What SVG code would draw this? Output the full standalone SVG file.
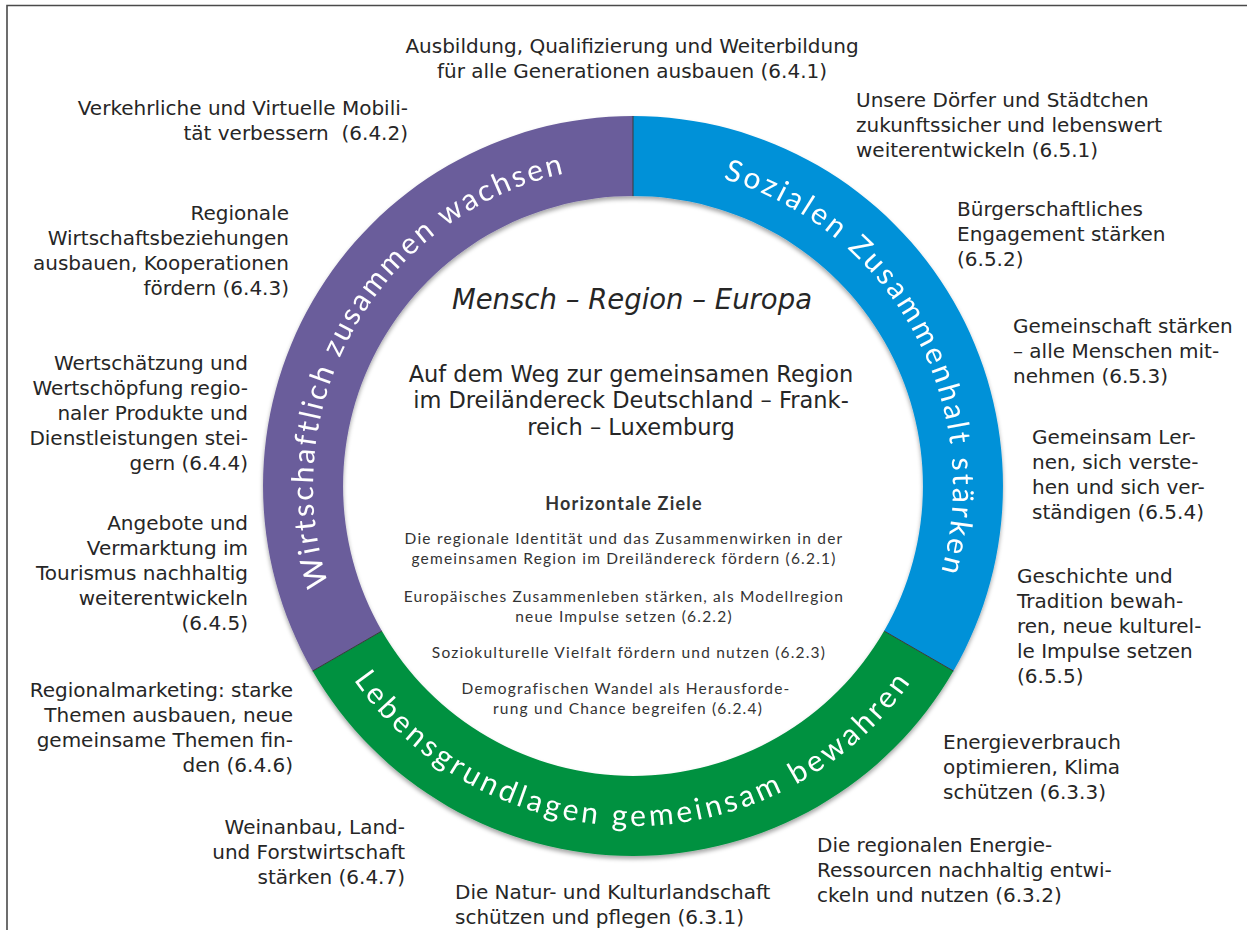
<svg xmlns="http://www.w3.org/2000/svg" xmlns:xlink="http://www.w3.org/1999/xlink" width="1247" height="930" viewBox="0 0 1247 930">
  <style>
    .lbl { font-family: "DejaVu Sans", Verdana, sans-serif; font-size: 20px; fill: #262626; }
    .l { text-anchor: end; }
    .r { text-anchor: start; }
    .c { text-anchor: middle; }
    .ring { font-family: Lato, "Noto Sans", sans-serif; font-size: 30px; fill: #ffffff; }
    .motto { font-family: "DejaVu Sans", Verdana, sans-serif; font-size: 27.5px; font-style: italic; fill: #262626; text-anchor: middle; }
    .lead { font-family: "DejaVu Sans", Verdana, sans-serif; font-size: 22.5px; fill: #262626; text-anchor: middle; }
    .hz { font-family: Lato, "Noto Sans", sans-serif; font-size: 18px; font-weight: bold; letter-spacing: 1.2px; fill: #333333; text-anchor: middle; }
    .hs { font-family: Lato, "Noto Sans", sans-serif; font-size: 15.5px; letter-spacing: 1.2px; fill: #333333; text-anchor: middle; }
    .sep { stroke: #3a3a3a; stroke-width: 1; }
  </style>
  <defs>
    <filter id="shadow" x="-5%" y="-5%" width="110%" height="112%">
      <feDropShadow dx="0" dy="3" stdDeviation="2" flood-color="#000000" flood-opacity="0.35"/>
    </filter>
    <!-- baselines for the ring captions -->
    <path id="arcPurple" d="M 355.9 646 A 320 320 0 0 1 633 166"/>
    <path id="arcBlue" d="M 633 166 A 320 320 0 0 1 910.1 646"/>
    <path id="arcGreen" d="M 338.5 656 A 340 340 0 0 0 927.5 656"/>
  </defs>

  <rect width="1247" height="930" fill="#ffffff"/>
  <!-- frame -->
  <path d="M 7 930 L 7 5.5 L 1247 5.5" fill="none" stroke="#4a4a4a" stroke-width="1.6"/>

  <!-- ring -->
  <g id="ring" filter="url(#shadow)">
    <g id="seg-wirtschaft">
      <path d="M 312.6 671 A 370 370 0 0 1 633 116 L 633 196 A 290 290 0 0 0 381.9 631 Z" fill="#6a5d9b"/>
      <text class="ring" letter-spacing="2.6"><textPath xlink:href="#arcPurple" href="#arcPurple" startOffset="50%" text-anchor="middle">Wirtschaftlich zusammen wachsen</textPath></text>
    </g>
    <g id="seg-sozial">
      <path d="M 633 116 A 370 370 0 0 1 953.4 671 L 884.1 631 A 290 290 0 0 0 633 196 Z" fill="#0091d8"/>
      <text class="ring" letter-spacing="3"><textPath xlink:href="#arcBlue" href="#arcBlue" startOffset="51%" text-anchor="middle">Sozialen Zusammenhalt stärken</textPath></text>
    </g>
    <g id="seg-lebensgrundlagen">
      <path d="M 953.4 671 A 370 370 0 0 1 312.6 671 L 381.9 631 A 290 290 0 0 0 884.1 631 Z" fill="#009140"/>
      <text class="ring" letter-spacing="3.5"><textPath xlink:href="#arcGreen" href="#arcGreen" startOffset="50%" text-anchor="middle">Lebensgrundlagen gemeinsam bewahren</textPath></text>
    </g>
    <g id="ring-separators">
      <line class="sep" x1="633" y1="116" x2="633" y2="196"/>
      <line class="sep" x1="953.4" y1="671" x2="884.1" y2="631"/>
      <line class="sep" x1="312.6" y1="671" x2="381.9" y2="631"/>
    </g>
  </g>

  <!-- centre -->
  <g id="centre">
    <text class="motto" x="632" y="309">Mensch – Region – Europa</text>
    <text class="lead" x="631" y="382">Auf dem Weg zur gemeinsamen Region</text>
    <text class="lead" x="631" y="408">im Dreiländereck Deutschland – Frank-</text>
    <text class="lead" x="631" y="435">reich – Luxemburg</text>
  </g>
  <g id="horizontal">
    <text class="hz" x="624" y="510">Horizontale Ziele</text>
    <text class="hs" x="624" y="544">Die regionale Identität und das Zusammenwirken in der</text>
    <text class="hs" x="624" y="564">gemeinsamen Region im Dreiländereck fördern (6.2.1)</text>
    <text class="hs" x="624" y="602">Europäisches Zusammenleben stärken, als Modellregion</text>
    <text class="hs" x="624" y="622">neue Impulse setzen (6.2.2)</text>
    <text class="hs" x="629" y="658">Soziokulturelle Vielfalt fördern und nutzen (6.2.3)</text>
    <text class="hs" x="626" y="694">Demografischen Wandel als Herausforde-</text>
    <text class="hs" x="628" y="714">rung und Chance begreifen (6.2.4)</text>
  </g>

  <!-- goals: Wirtschaftlich zusammen wachsen -->
  <g id="g641" class="lbl c">
    <text x="632" y="53">Ausbildung, Qualifizierung und Weiterbildung</text>
    <text x="632" y="78">für alle Generationen ausbauen (6.4.1)</text>
  </g>
  <g id="g642" class="lbl l">
    <text x="408" y="115">Verkehrliche und Virtuelle Mobili-</text>
    <text x="408" y="140" style="white-space:pre">tät verbessern  (6.4.2)</text>
  </g>
  <g id="g643" class="lbl l">
    <text x="289" y="220">Regionale</text>
    <text x="289" y="245">Wirtschaftsbeziehungen</text>
    <text x="289" y="270">ausbauen, Kooperationen</text>
    <text x="289" y="295">fördern (6.4.3)</text>
  </g>
  <g id="g644" class="lbl l">
    <text x="248" y="370">Wertschätzung und</text>
    <text x="248" y="395">Wertschöpfung regio-</text>
    <text x="248" y="420">naler Produkte und</text>
    <text x="248" y="445">Dienstleistungen stei-</text>
    <text x="248" y="470">gern (6.4.4)</text>
  </g>
  <g id="g645" class="lbl l">
    <text x="248" y="530">Angebote und</text>
    <text x="248" y="555">Vermarktung im</text>
    <text x="248" y="580">Tourismus nachhaltig</text>
    <text x="248" y="605">weiterentwickeln</text>
    <text x="248" y="630">(6.4.5)</text>
  </g>
  <g id="g646" class="lbl l">
    <text x="293" y="697">Regionalmarketing: starke</text>
    <text x="293" y="722">Themen ausbauen, neue</text>
    <text x="293" y="747">gemeinsame Themen fin-</text>
    <text x="293" y="772">den (6.4.6)</text>
  </g>
  <g id="g647" class="lbl l">
    <text x="405" y="834">Weinanbau, Land-</text>
    <text x="405" y="859">und Forstwirtschaft</text>
    <text x="405" y="884">stärken (6.4.7)</text>
  </g>

  <!-- goals: Sozialen Zusammenhalt stärken -->
  <g id="g651" class="lbl r">
    <text x="856" y="107">Unsere Dörfer und Städtchen</text>
    <text x="856" y="132">zukunftssicher und lebenswert</text>
    <text x="856" y="157">weiterentwickeln (6.5.1)</text>
  </g>
  <g id="g652" class="lbl r">
    <text x="957" y="216">Bürgerschaftliches</text>
    <text x="957" y="241">Engagement stärken</text>
    <text x="957" y="266">(6.5.2)</text>
  </g>
  <g id="g653" class="lbl r">
    <text x="1013" y="333">Gemeinschaft stärken</text>
    <text x="1013" y="358">– alle Menschen mit-</text>
    <text x="1013" y="383">nehmen (6.5.3)</text>
  </g>
  <g id="g654" class="lbl r">
    <text x="1032" y="444">Gemeinsam Ler-</text>
    <text x="1032" y="469">nen, sich verste-</text>
    <text x="1032" y="494">hen und sich ver-</text>
    <text x="1032" y="519">ständigen (6.5.4)</text>
  </g>
  <g id="g655" class="lbl r">
    <text x="1017" y="583">Geschichte und</text>
    <text x="1017" y="608">Tradition bewah-</text>
    <text x="1017" y="633">ren, neue kulturel-</text>
    <text x="1017" y="658">le Impulse setzen</text>
    <text x="1017" y="683">(6.5.5)</text>
  </g>

  <!-- goals: Lebensgrundlagen gemeinsam bewahren -->
  <g id="g633" class="lbl r">
    <text x="943" y="749">Energieverbrauch</text>
    <text x="943" y="774">optimieren, Klima</text>
    <text x="943" y="799">schützen (6.3.3)</text>
  </g>
  <g id="g632" class="lbl r">
    <text x="817" y="852">Die regionalen Energie-</text>
    <text x="817" y="877">Ressourcen nachhaltig entwi-</text>
    <text x="817" y="902">ckeln und nutzen (6.3.2)</text>
  </g>
  <g id="g631" class="lbl r">
    <text x="455" y="899">Die Natur- und Kulturlandschaft</text>
    <text x="455" y="924">schützen und pflegen (6.3.1)</text>
  </g>
</svg>
